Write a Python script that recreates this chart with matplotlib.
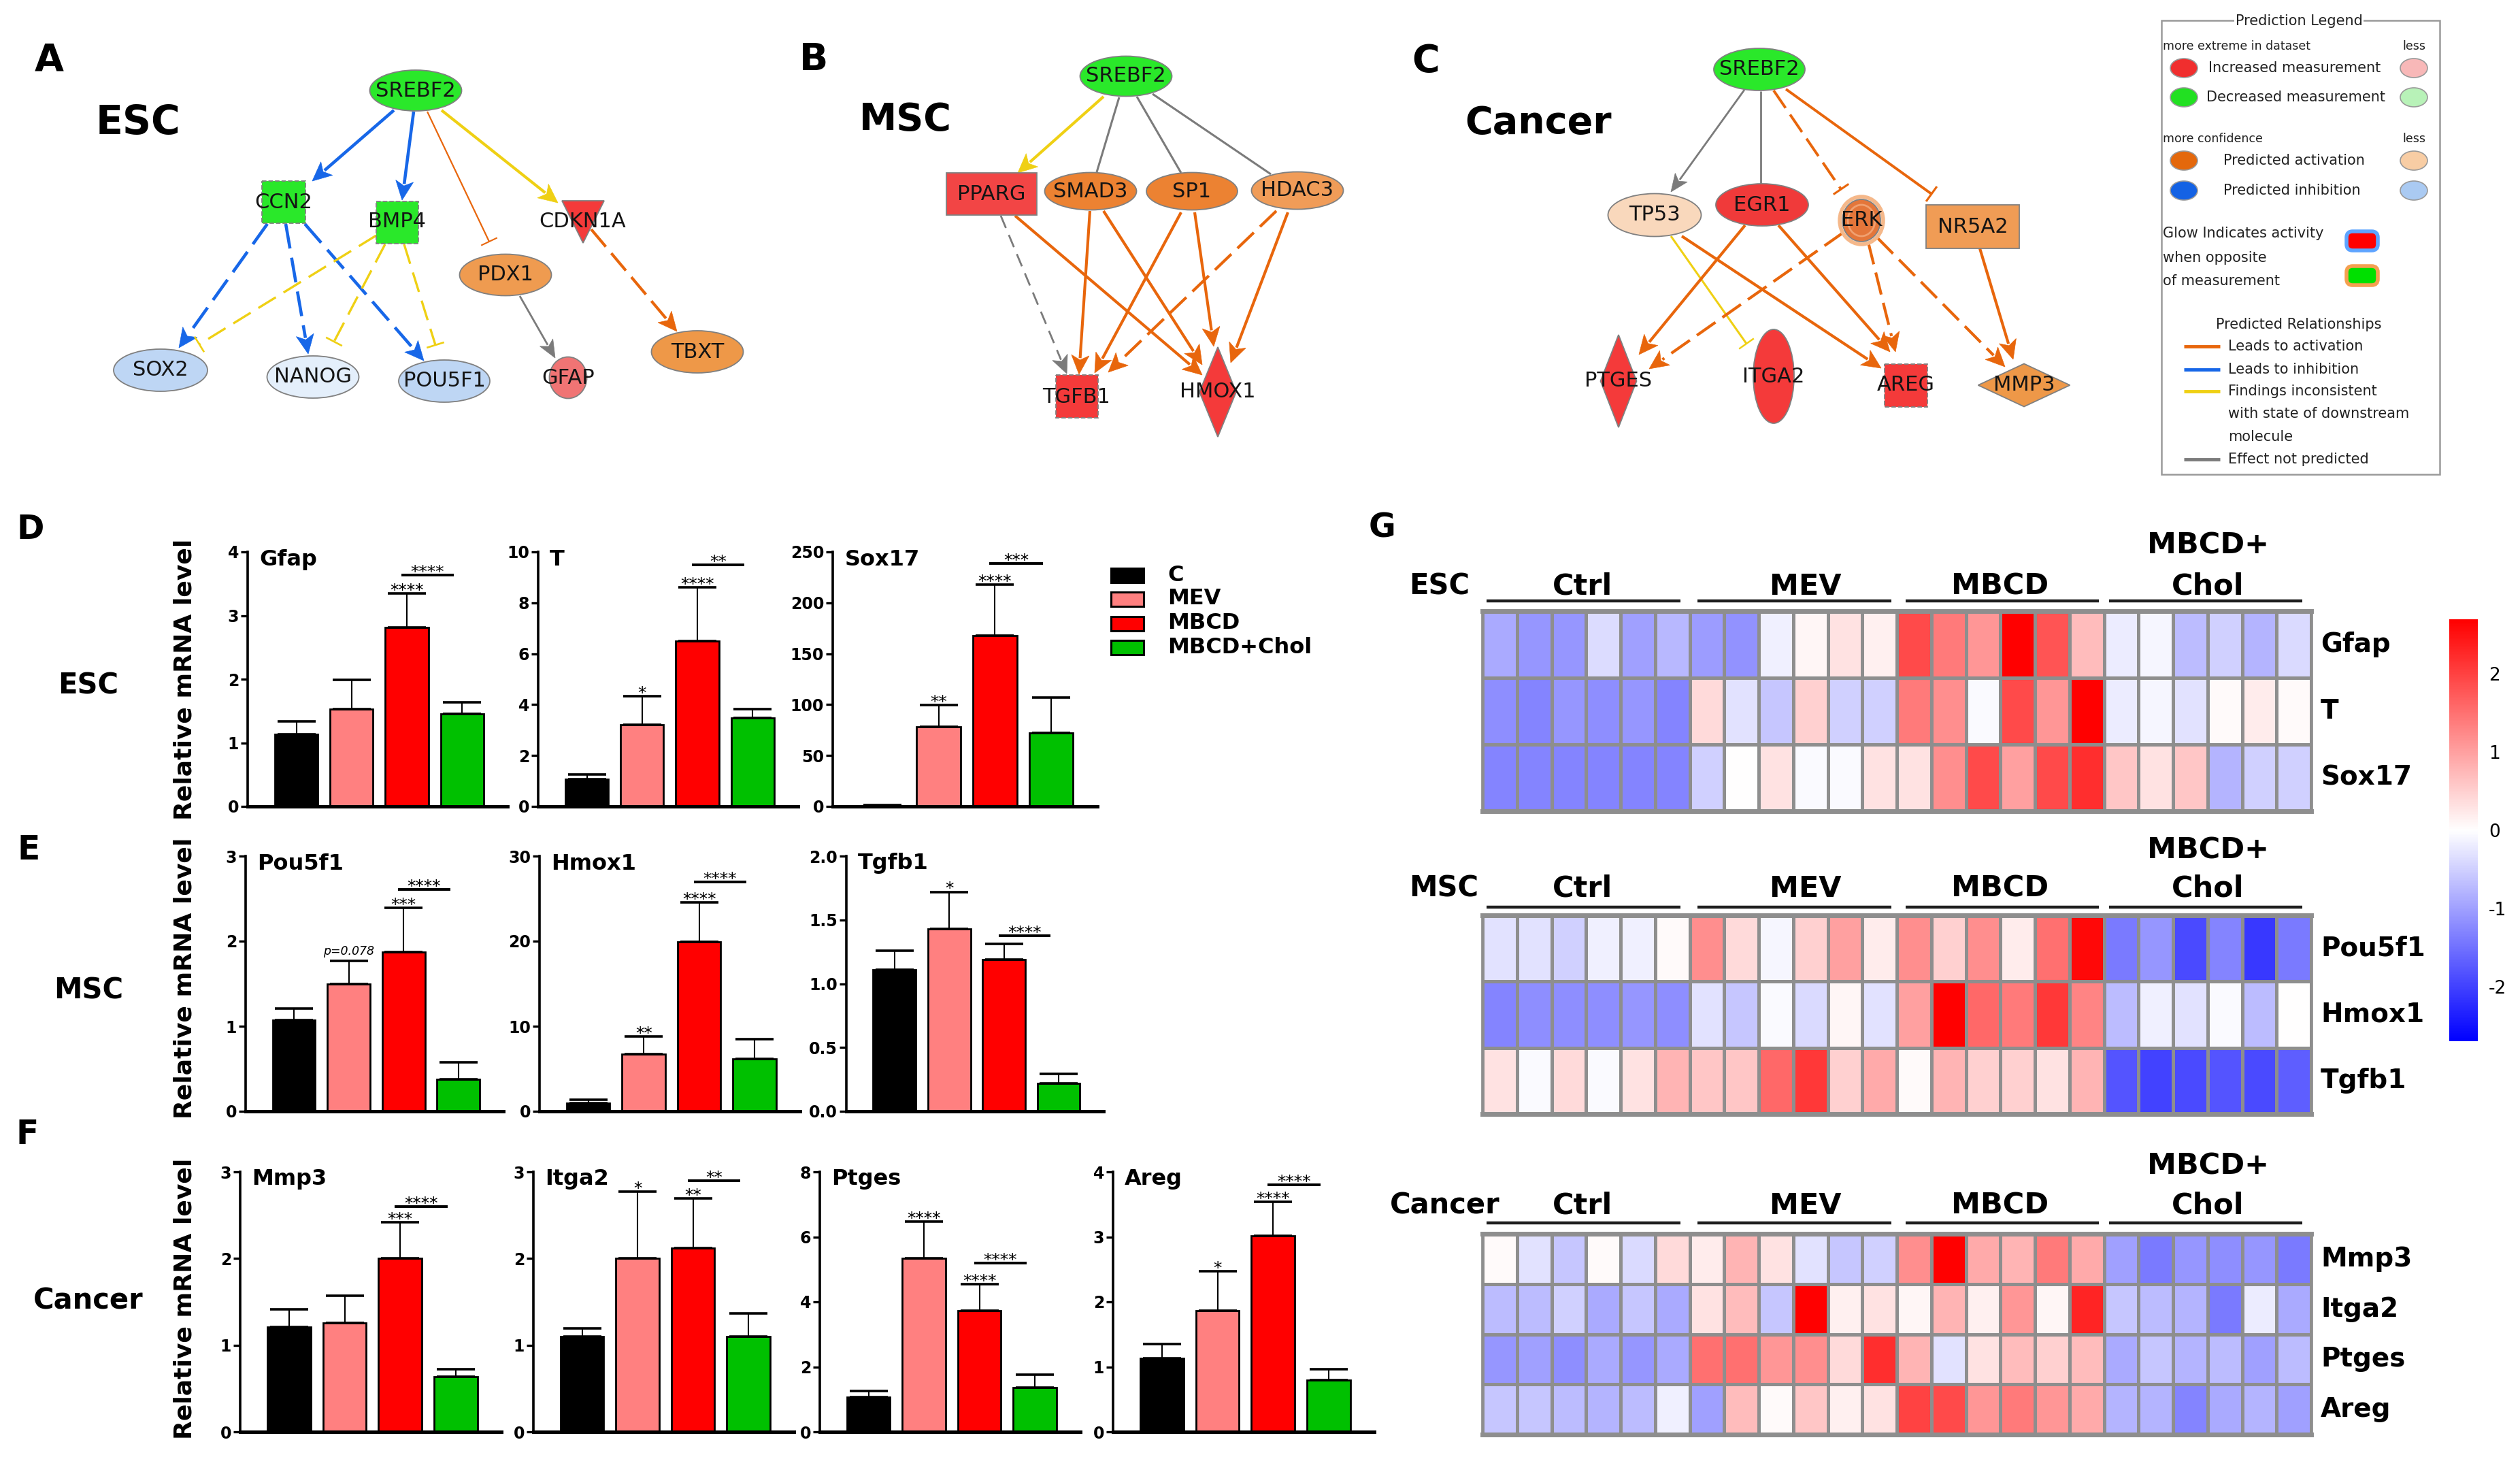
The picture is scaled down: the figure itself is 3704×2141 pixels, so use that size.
import numpy as np
import matplotlib
matplotlib.use("Agg")
import matplotlib.pyplot as plt
from matplotlib.patches import Ellipse, Rectangle, Polygon, FancyBboxPatch
from matplotlib.colors import LinearSegmentedColormap

plt.rcParams['font.family'] = ['DejaVu Sans']
plt.rcParams['axes.unicode_minus'] = False

W, H, DPI = 3704, 2141, 100


def pt(px):
    return px * 72.0 / DPI


# ---------------------------------------------------------------- DATA
groups = ['C', 'MEV', 'MBCD', 'MBCD+Chol']
bar_colors = ['#000000', '#FF8080', '#FF0000', '#00C000']

esc_genes = ['Gfap', 'T', 'Sox17']
esc_means = [[1.13, 1.53, 2.81, 1.45], [1.07, 3.21, 6.49, 3.48], [1.0, 78.5, 168.0, 72.0]]
esc_errs = [[0.21, 0.46, 0.54, 0.19], [0.20, 1.11, 2.13, 0.35], [0.5, 21.0, 50.0, 35.0]]
esc_ymax = [4, 10, 250]
esc_ystep = [1, 2, 50]
esc_sig_mev = ['', '*', '**']
esc_sig_mbcd = ['****', '****', '****']
esc_bracket = [('****', 3.64), ('**', 9.49), ('***', 238.6)]

msc_genes = ['Pou5f1', 'Hmox1', 'Tgfb1']
msc_means = [[1.07, 1.50, 1.87, 0.38], [1.0, 6.7, 19.9, 6.2], [1.11, 1.43, 1.19, 0.22]]
msc_errs = [[0.14, 0.27, 0.52, 0.20], [0.4, 2.1, 4.7, 2.3], [0.15, 0.29, 0.12, 0.075]]
msc_ymax = [3, 30, 2.0]
msc_ystep = [1, 10, 0.5]
msc_sig_mev = ['p=0.078', '**', '*']
msc_sig_mbcd = ['***', '****', '']
msc_bracket = [('****', 2.61), ('****', 27.0), ('****', 1.375)]

cancer_genes = ['Mmp3', 'Itga2', 'Ptges', 'Areg']
cancer_means = [[1.21, 1.26, 2.00, 0.64], [1.10, 2.00, 2.12, 1.10],
                [1.06, 5.33, 3.73, 1.36], [1.13, 1.86, 3.02, 0.80]]
cancer_errs = [[0.20, 0.31, 0.42, 0.08], [0.09, 0.77, 0.57, 0.27],
               [0.19, 1.14, 0.82, 0.40], [0.22, 0.61, 0.52, 0.16]]
cancer_ymax = [3, 3, 8, 4]
cancer_ystep = [1, 1, 2, 1]
cancer_sig_mev = ['', '*', '****', '*']
cancer_sig_mbcd = ['***', '**', '****', '****']
cancer_bracket = [('****', 2.60), ('**', 2.90), ('****', 5.20), ('****', 3.80)]

hm_groups = ['Ctrl', 'MEV', 'MBCD', 'Chol']
hm_esc_genes = ['Gfap', 'T', 'Sox17']
hm_esc = [
    [-0.9, -1.1, -1.1, -0.37, -1.0, -0.75, -1.05, -1.15, -0.15, 0.1, 0.3, 0.15,
     1.9, 1.4, 1.1, 2.7, 1.8, 0.7, -0.2, -0.1, -0.7, -0.5, -0.8, -0.4],
    [-1.2, -1.3, -1.1, -1.2, -1.1, -1.3, 0.4, -0.3, -0.6, 0.5, -0.5, -0.5,
     1.4, 1.2, -0.05, 1.9, 1.1, 2.7, -0.2, -0.1, -0.3, 0.05, 0.2, 0.05],
    [-1.3, -1.3, -1.3, -1.3, -1.3, -1.3, -0.5, 0.0, 0.3, -0.05, -0.05, 0.3,
     0.3, 1.2, 1.9, 1.0, 1.9, 2.2, 0.6, 0.3, 0.6, -0.8, -0.5, -0.5]]
hm_msc_genes = ['Pou5f1', 'Hmox1', 'Tgfb1']
hm_msc = [
    [-0.3, -0.3, -0.5, -0.15, -0.15, 0.05, 1.2, 0.4, -0.1, 0.5, 1.0, 0.2,
     1.2, 0.5, 1.2, 0.2, 1.5, 2.6, -1.4, -1.1, -1.9, -1.3, -2.1, -1.4],
    [-1.3, -1.2, -1.2, -1.2, -1.1, -1.2, -0.3, -0.6, -0.05, -0.4, 0.1, -0.3,
     1.0, 2.7, 1.6, 1.4, 2.1, 1.3, -0.7, -0.15, -0.3, -0.05, -0.7, 0.0],
    [0.3, -0.05, 0.4, -0.05, 0.3, 0.8, 0.6, 0.6, 1.6, 2.1, 0.5, 0.9,
     0.05, 0.8, 0.5, 0.5, 0.3, 0.8, -1.8, -2.0, -1.9, -1.8, -1.9, -1.7]]
hm_cancer_genes = ['Mmp3', 'Itga2', 'Ptges', 'Areg']
hm_cancer = [
    [0.05, -0.3, -0.6, 0.05, -0.4, 0.4, 0.2, 0.8, 0.3, -0.3, -0.6, -0.5,
     1.2, 2.7, 0.9, 0.8, 1.4, 0.9, -1.0, -1.4, -1.1, -1.2, -1.1, -1.4],
    [-0.7, -0.7, -0.5, -0.9, -0.6, -0.9, 0.3, 0.7, -0.6, 2.7, 0.15, 0.3,
     0.1, 0.8, 0.15, 1.1, 0.1, 2.3, -0.6, -0.7, -0.8, -1.4, -0.2, -0.9],
    [-1.1, -1.0, -1.2, -0.9, -1.1, -0.9, 1.5, 1.5, 1.1, 1.2, 0.4, 2.2,
     0.8, -0.3, 0.3, 0.7, 0.5, 0.7, -0.9, -0.6, -0.8, -0.7, -1.0, -0.7],
    [-0.6, -0.6, -0.7, -0.8, -0.7, -0.15, -1.0, 0.7, 0.05, 0.6, 0.15, 0.3,
     2.0, 1.9, 1.1, 1.4, 1.1, 0.9, -0.8, -0.8, -1.3, -0.9, -0.8, -1.0]]
hm_ticks = [-2, -1, 0, 1, 2]

# ---------------------------------------------------------------- FIGURE
fig = plt.figure(figsize=(W / DPI, H / DPI), dpi=DPI)
fig.patch.set_facecolor('white')
ov = fig.add_axes([0, 0, 1, 1])
ov.set_xlim(0, W)
ov.set_ylim(H, 0)
ov.axis('off')


def add_ax(x0, y0, x1, y1):
    return fig.add_axes([x0 / W, 1 - y1 / H, (x1 - x0) / W, (y1 - y0) / H])


# ---------------------------------------------------------------- network helpers
EDGE = '#808080'
C_BLUE = '#1767E8'
C_ORANGE = '#E8660C'
C_YELLOW = '#EFD014'
C_GRAY = '#7B7B7B'


def lbl(x, y, s, fs=22):
    ov.text(x, y, s, ha='center', va='center', fontsize=fs, color='#141414', zorder=8)


def ell(c, w, h, fc, s, fs=22):
    ov.add_patch(Ellipse(c, w, h, facecolor=fc, edgecolor=EDGE, lw=1.3, zorder=6))
    lbl(c[0], c[1], s, fs)


def rect(x0, y0, x1, y1, fc, s, ls='-', lx=None, ly=None):
    ov.add_patch(Rectangle((x0, y0), x1 - x0, y1 - y0, facecolor=fc, edgecolor=EDGE,
                           lw=1.3, ls=ls, zorder=6))
    lbl(lx if lx else (x0 + x1) / 2, ly if ly else (y0 + y1) / 2, s)


def diamond(c, w, h, fc, s):
    cx, cy = c
    ov.add_patch(Polygon([(cx, cy - h / 2), (cx + w / 2, cy), (cx, cy + h / 2), (cx - w / 2, cy)],
                         closed=True, facecolor=fc, edgecolor=EDGE, lw=1.3, zorder=6))
    lbl(cx, cy, s)


def edge(p0, p1, color, head='arrow', ls='-', lw=3.0, hl=26, hw=12):
    p0 = np.array(p0, float)
    p1 = np.array(p1, float)
    d = p1 - p0
    u = d / np.hypot(*d)
    n = np.array([-u[1], u[0]])
    end = p1 - u * hl * 0.85 if head == 'arrow' else p1
    ov.plot([p0[0], end[0]], [p0[1], end[1]], color=color, lw=lw, ls=ls,
            solid_capstyle='butt', dash_capstyle='butt', zorder=4)
    if head == 'arrow':
        base = p1 - u * hl
        ov.add_patch(Polygon([p1, base + n * hw, p1 - u * hl * 0.75, base - n * hw], closed=True,
                             facecolor=color, edgecolor=color, lw=0.5, zorder=5))
    elif head == 'inhibit':
        a = p1 + n * hw
        b = p1 - n * hw
        ov.plot([a[0], b[0]], [a[1], b[1]], color=color, lw=max(lw * 0.8, 1.5), zorder=5)


DASH = (0, (8, 3))
DASH2 = (0, (9, 4))

# ---------------------------------------------------------------- panel A
ov.text(72, 88, 'A', fontsize=40, fontweight='bold', ha='center', va='center')
ov.text(203, 181, 'ESC', fontsize=42, fontweight='bold', ha='center', va='center')
edge((579, 162), (459, 266), C_BLUE, lw=3.3, hl=28, hw=13)
edge((608, 164), (591, 294), C_BLUE, lw=3.3, hl=28, hw=13)
edge((628, 164), (719, 355), C_ORANGE, head='inhibit', lw=1.6, hw=12)
edge((649, 162), (820, 298), C_YELLOW, lw=3.0, hl=28, hw=13)
edge((869, 337), (995, 487), C_ORANGE, ls=DASH, lw=3.0, hl=28, hw=13)
edge((764, 435), (816, 526), C_GRAY, lw=2.0, hl=26, hw=11)
edge((393, 329), (263, 511), C_BLUE, ls=DASH, lw=3.3, hl=28, hw=13)
edge((420, 329), (453, 520), C_BLUE, ls=DASH, lw=3.3, hl=28, hw=13)
edge((448, 329), (623, 530), C_BLUE, ls=DASH, lw=3.3, hl=28, hw=13)
edge((553, 346), (293, 506), C_YELLOW, head='inhibit', ls=DASH2, lw=2.4, hw=12)
edge((566, 359), (491, 502), C_YELLOW, head='inhibit', ls=DASH2, lw=2.4, hw=12)
edge((594, 359), (640, 507), C_YELLOW, head='inhibit', ls=DASH2, lw=2.4, hw=12)
ell((611, 133), 135, 60, '#2AE82A', 'SREBF2')
rect(385, 266, 449, 328, '#2AE82A', 'CCN2', ls='--')
rect(553, 296, 615, 358, '#2AE82A', 'BMP4', ls='--', lx=583, ly=325)
ov.add_patch(Polygon([(826, 295), (888, 295), (857, 357)], closed=True, facecolor='#F43A3A',
                     edgecolor=EDGE, lw=1.3, zorder=6))
lbl(856, 326, 'CDKN1A')
ell((743, 404), 135, 61, '#EF9B50', 'PDX1')
ell((236, 544), 138, 62, '#BED6F4', 'SOX2')
ell((460, 554), 135, 62, '#E4EFFB', 'NANOG')
ell((653, 560), 134, 62, '#BED6F4', 'POU5F1')
ell((835, 555), 55, 61, '#F07474', 'GFAP')
ell((1025, 517), 135, 62, '#EE9848', 'TBXT')

# ---------------------------------------------------------------- panel B
ov.text(1196, 88, 'B', fontsize=40, fontweight='bold', ha='center', va='center')
ov.text(1331, 176, 'MSC', fontsize=40, fontweight='bold', ha='center', va='center')
edge((1622, 142), (1496, 254), C_YELLOW, lw=3.0, hl=28, hw=13)
edge((1645, 143), (1612, 253), C_GRAY, head=None, lw=2.2)
edge((1671, 142), (1736, 254), C_GRAY, head=None, lw=2.2)
edge((1694, 138), (1868, 256), C_GRAY, head=None, lw=2.2)
edge((1471, 317), (1568, 549), C_GRAY, ls=(0, (7, 4)), lw=2.0, hl=26, hw=12)
edge((1492, 317), (1767, 551), C_ORANGE, lw=3.0, hl=28, hw=13)
edge((1602, 310), (1586, 550), C_ORANGE, lw=3.0, hl=28, hw=13)
edge((1622, 310), (1767, 536), C_ORANGE, lw=3.0, hl=28, hw=13)
edge((1736, 312), (1609, 548), C_ORANGE, lw=3.0, hl=28, hw=13)
edge((1756, 312), (1784, 509), C_ORANGE, lw=3.0, hl=28, hw=13)
edge((1876, 310), (1629, 547), C_ORANGE, ls=DASH, lw=3.0, hl=28, hw=13)
edge((1893, 312), (1809, 533), C_ORANGE, lw=3.0, hl=28, hw=13)
ell((1655, 112), 135, 59, '#2AE82A', 'SREBF2')
rect(1391, 254, 1524, 316, '#F24545', 'PPARG')
ell((1603, 281), 135, 55, '#EC8232', 'SMAD3')
ell((1752, 281), 134, 55, '#EC8232', 'SP1')
ell((1907, 280), 135, 55, '#F09C58', 'HDAC3')
rect(1552, 551, 1614, 614, '#F43A3A', 'TGFB1', ls='--', lx=1582, ly=583)
diamond((1790, 576), 54, 132, '#F43A3A', 'HMOX1')

# ---------------------------------------------------------------- panel C
ov.text(2096, 90, 'C', fontsize=40, fontweight='bold', ha='center', va='center')
ov.text(2261, 181, 'Cancer', fontsize=40, fontweight='bold', ha='center', va='center')
edge((2564, 132), (2456, 282), C_GRAY, lw=2.0, hl=26, hw=11)
edge((2588, 134), (2588, 270), C_GRAY, head=None, lw=2.0)
edge((2607, 133), (2706, 278), C_ORANGE, head='inhibit', ls=DASH, lw=2.8, hw=12)
edge((2625, 131), (2839, 285), C_ORANGE, head='inhibit', lw=2.8, hw=12)
edge((2456, 347), (2567, 505), C_YELLOW, head='inhibit', lw=2.2, hw=12)
edge((2472, 347), (2765, 541), C_ORANGE, lw=3.0, hl=28, hw=13)
edge((2565, 331), (2409, 521), C_ORANGE, lw=3.0, hl=28, hw=13)
edge((2614, 331), (2778, 517), C_ORANGE, lw=3.0, hl=28, hw=13)
edge((2709, 342), (2424, 542), C_ORANGE, ls=DASH, lw=3.0, hl=28, hw=13)
edge((2746, 356), (2786, 517), C_ORANGE, ls=DASH, lw=3.0, hl=28, hw=13)
edge((2759, 349), (2947, 539), C_ORANGE, ls=DASH, lw=3.0, hl=28, hw=13)
edge((2910, 365), (2959, 528), C_ORANGE, lw=3.0, hl=28, hw=13)
ell((2586, 102), 134, 62, '#2AE82A', 'SREBF2')
ell((2432, 316), 137, 63, '#F9D8BC', 'TP53')
ell((2590, 301), 136, 62, '#F03A3A', 'EGR1')
ov.add_patch(Ellipse((2736, 324), 64, 70, facecolor='none', edgecolor='#F5B88A', lw=4, zorder=5))
ov.add_patch(Ellipse((2736, 324), 56, 62, facecolor='#E4763A', edgecolor=EDGE, lw=1.3, zorder=6))
ov.add_patch(Ellipse((2736, 324), 40, 46, facecolor='none', edgecolor='#F0A070', lw=2, zorder=6))
lbl(2736, 324, 'ERK')
rect(2831, 301, 2968, 365, '#F09C55', 'NR5A2')
diamond((2379, 560), 53, 136, '#F43A3A', 'PTGES')
ell((2607, 553), 60, 138, '#F43A3A', 'ITGA2')
rect(2770, 535, 2833, 598, '#F43A3A', 'AREG', ls='--', lx=2801, ly=565)
diamond((2975, 566), 135, 63, '#EE9848', 'MMP3')

# ---------------------------------------------------------------- prediction legend
ov.add_patch(Rectangle((3177, 30), 409, 667, fill=False, edgecolor='#9a9a9a', lw=1.8, zorder=2))
ov.text(3379, 31, 'Prediction Legend', ha='center', va='center', fontsize=15, color='#222',
        bbox=dict(facecolor='white', edgecolor='none', pad=1), zorder=3)
small = dict(fontsize=12.5, color='#222', va='center')
mid = dict(fontsize=15, color='#222', va='center')
ov.text(3179, 68, 'more extreme in dataset', ha='left', **small)
ov.text(3565, 68, 'less', ha='right', **small)
ov.text(3179, 204, 'more confidence', ha='left', **small)
ov.text(3565, 204, 'less', ha='right', **small)
for yc, c1, c2, s, tx in [(100, '#F02E2E', '#F8B8B8', 'Increased measurement', 3246),
                          (143, '#22E022', '#B8F2B8', 'Decreased measurement', 3243),
                          (236, '#E4680C', '#F8CDA4', 'Predicted activation', 3268),
                          (280, '#1462E4', '#AACAF2', 'Predicted inhibition', 3268)]:
    ov.add_patch(Ellipse((3210, yc), 40, 28, facecolor=c1, edgecolor='#999', lw=1.2, zorder=3))
    ov.add_patch(Ellipse((3548, yc), 40, 28, facecolor=c2, edgecolor='#999', lw=1.2, zorder=3))
    ov.text(tx, yc, s, ha='left', **mid)
for yy, s in [(343, 'Glow Indicates activity'), (379, 'when opposite'), (413, 'of measurement')]:
    ov.text(3179, yy, s, ha='left', **mid)
for yc, fc, gc in [(354, '#FF0000', '#5EA4FF'), (405, '#00E000', '#F5A050')]:
    ov.add_patch(FancyBboxPatch((3449, yc - 14), 46, 28, boxstyle='round,pad=0,rounding_size=9',
                                facecolor=fc, edgecolor=gc, lw=4, zorder=3))
ov.text(3379, 477, 'Predicted Relationships', ha='center', **mid)
for yy, c in [(509, C_ORANGE), (543, C_BLUE), (575, C_YELLOW), (675, C_GRAY)]:
    ov.plot([3210, 3263], [yy, yy], color=c, lw=3.5, solid_capstyle='butt', zorder=3)
for yy, s in [(509, 'Leads to activation'), (543, 'Leads to inhibition'),
              (575, 'Findings inconsistent'), (608, 'with state of downstream'),
              (642, 'molecule'), (675, 'Effect not predicted')]:
    ov.text(3275, yy, s, ha='left', **mid)

# ---------------------------------------------------------------- bar charts
XL = (-0.88, 3.82)


def bar_panel(x0, x1, ytop, ybot, gene, means, errs, ymax, ystep, smev, smbcd, brk):
    ax = add_ax(x0, ytop, x1, ybot)
    ax.set_facecolor('none')
    xs = np.arange(len(groups))
    ax.bar(xs, means, width=0.78, color=bar_colors, edgecolor='black', linewidth=2.0, zorder=2)
    ax.errorbar(xs, means, yerr=[np.zeros(len(xs)), errs], fmt='none', ecolor='black',
                elinewidth=1.5, capsize=pt(28), capthick=2.6, zorder=3, clip_on=False)
    ax.set_xlim(*XL)
    ax.set_ylim(0, ymax)
    ticks = np.arange(0, ymax + ystep / 2, ystep)
    ax.set_yticks(ticks)
    if isinstance(ystep, float) and ystep < 1:
        ax.set_yticklabels(['%.1f' % t for t in ticks])
    else:
        ax.set_yticklabels(['%d' % t for t in ticks])
    for s in ['top', 'right']:
        ax.spines[s].set_visible(False)
    ax.spines['left'].set_linewidth(2.6)
    ax.spines['bottom'].set_linewidth(3.6)
    ax.set_xticks([])
    ax.tick_params(axis='y', length=pt(10), width=2.4, pad=2, labelsize=17)
    for t in ax.get_yticklabels():
        t.set_fontweight('bold')
    ax.text(0.045, 1.012, gene, transform=ax.transAxes, ha='left', va='top',
            fontsize=23, fontweight='bold')
    tops = [m + e for m, e in zip(means, errs)]
    for i, s in [(1, smev), (2, smbcd)]:
        if not s:
            continue
        if s.startswith('p'):
            ax.annotate(s, (i, tops[i]), xytext=(0, pt(5)), textcoords='offset points',
                        ha='center', va='bottom', fontsize=12.5, style='italic', clip_on=False)
        else:
            ax.annotate(s, (i, tops[i]), xytext=(0, pt(-3)), textcoords='offset points',
                        ha='center', va='baseline', fontsize=18, clip_on=False)
    s, hy = brk
    ax.plot([1.9, 2.85], [hy, hy], color='black', lw=2.8, clip_on=False, solid_capstyle='butt')
    ax.annotate(s, (2.375, hy), xytext=(0, pt(-3)), textcoords='offset points',
                ha='center', va='baseline', fontsize=18, clip_on=False)
    return ax


rows = [
    (811, 1185, [(364, 746), (791, 1173), (1224, 1613)], esc_genes, esc_means, esc_errs,
     esc_ymax, esc_ystep, esc_sig_mev, esc_sig_mbcd, esc_bracket),
    (1258, 1633, [(361, 740), (793, 1176), (1244, 1622)], msc_genes, msc_means, msc_errs,
     msc_ymax, msc_ystep, msc_sig_mev, msc_sig_mbcd, msc_bracket),
    (1722, 2104, [(353, 737), (784, 1167), (1205, 1588), (1636, 2020)], cancer_genes,
     cancer_means, cancer_errs, cancer_ymax, cancer_ystep, cancer_sig_mev, cancer_sig_mbcd,
     cancer_bracket),
]
for (yt, yb, xr, genes, means, errs, ymaxs, ysteps, smev, smbcd, brk) in rows:
    for k, g in enumerate(genes):
        bar_panel(xr[k][0], xr[k][1], yt, yb, g, means[k], errs[k], ymaxs[k], ysteps[k],
                  smev[k], smbcd[k], brk[k])

for (x, y, s) in [(45, 778, 'D'), (42, 1249, 'E'), (40, 1667, 'F'), (2032, 776, 'G')]:
    ov.text(x, y, s, fontsize=35, fontweight='bold', ha='center', va='center')
for (y, s) in [(1008, 'ESC'), (1455, 'MSC'), (1912, 'Cancer')]:
    ov.text(130, y, s, fontsize=30, fontweight='bold', ha='center', va='center')
for y in [998, 1437, 1908]:
    ov.text(272, y, 'Relative mRNA level', fontsize=26, fontweight='bold', rotation=90,
            ha='center', va='center')

# bar legend
for i, (g, c) in enumerate(zip(groups, bar_colors)):
    yc = [845, 880, 916, 951][i]
    ov.add_patch(Rectangle((1633, yc - 10.5), 48, 21, facecolor=c, edgecolor='black', lw=2.2,
                           zorder=3))
    ov.text(1716, yc, g, fontsize=23, fontweight='bold', ha='left', va='center')

# ---------------------------------------------------------------- heatmaps
cmap = LinearSegmentedColormap.from_list('bwr2', ['#0000FF', '#FFFFFF', '#FF0000'])
VMIN, VMAX = -2.7, 2.7
GRID = '#8e8e8e'
group_cx = [2326, 2654, 2940, 3245]
uline = [(2185, 2470), (2495, 2780), (2801, 3085), (3100, 3384)]


def heat_section(top, bot, data, genes, sec, sec_x, lab_y, plus_y, ul_y):
    ax = add_ax(2179, top, 3397, bot)
    arr = np.array(data)
    m = ax.pcolormesh(arr, cmap=cmap, vmin=VMIN, vmax=VMAX, edgecolors=GRID, linewidth=3.4)
    ax.set_xlim(0, arr.shape[1])
    ax.set_ylim(arr.shape[0], 0)
    ax.set_xticks([])
    ax.set_yticks([])
    for k, s in ax.spines.items():
        s.set_color(GRID)
        s.set_linewidth(5 if k in ('top', 'bottom') else 3.4)
    for i, g in enumerate(genes):
        ax.text(arr.shape[1] + 0.28, i + 0.5, g, ha='left', va='center', fontsize=28,
                fontweight='bold', clip_on=False)
    ov.text(sec_x, lab_y, sec, fontsize=30, fontweight='bold', ha='left', va='center')
    for cx, g in zip(group_cx, hm_groups):
        ov.text(cx, lab_y, g, fontsize=31, fontweight='bold', ha='center', va='center')
    ov.text(group_cx[3], plus_y, 'MBCD+', fontsize=31, fontweight='bold', ha='center',
            va='center')
    for a, b in uline:
        ov.plot([a, b], [ul_y, ul_y], color='#1e1e1e', lw=3.2, solid_capstyle='butt')
    return m


mesh = heat_section(898, 1192, hm_esc, hm_esc_genes, 'ESC', 2071, 862, 802, 883)
heat_section(1345, 1637, hm_msc, hm_msc_genes, 'MSC', 2071, 1306, 1250, 1333)
heat_section(1813, 2108, hm_cancer, hm_cancer_genes, 'Cancer', 2043, 1772, 1713, 1797)

cax = add_ax(3600, 910, 3642, 1530)
cb = fig.colorbar(mesh, cax=cax, ticks=hm_ticks)
cb.outline.set_visible(False)
cax.tick_params(length=0, labelsize=19, pad=pt(16))

fig.savefig('out.png', dpi=DPI)
